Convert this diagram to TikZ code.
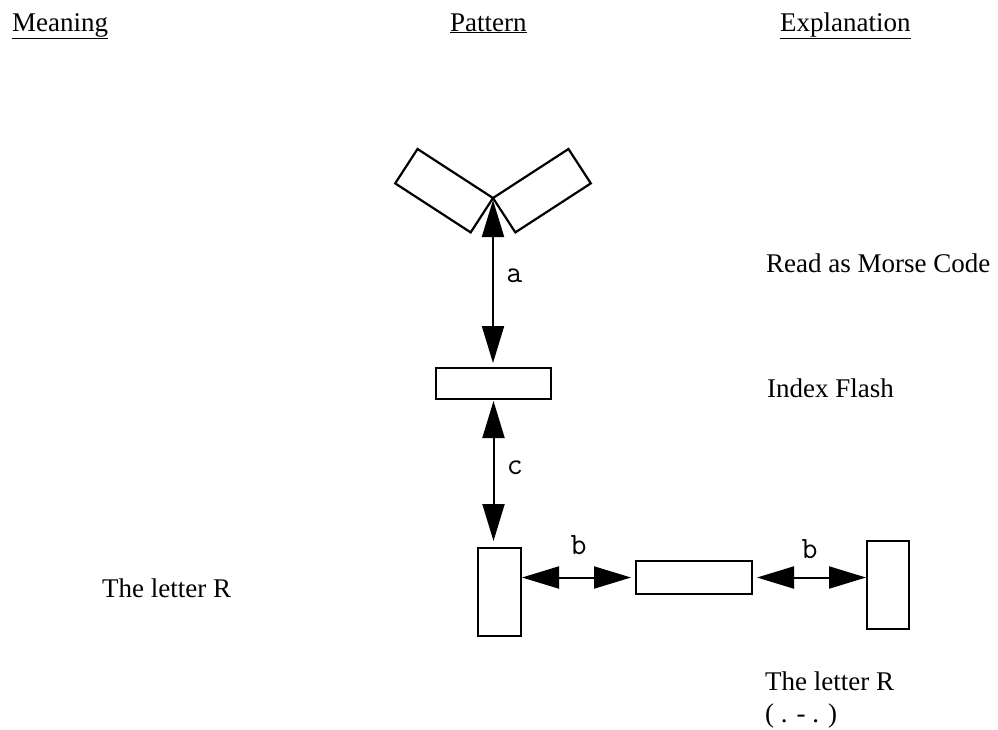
\documentclass[tikz,border=0pt]{standalone}
\usepackage{fontspec}
\setmainfont{Liberation Serif}
\usepackage{tikz}
\usetikzlibrary{arrows.meta,positioning}

\begin{document}
\begin{tikzpicture}[
  x=1pt,y=-1pt,
  every node/.style={font=\fontsize{27}{32}\selectfont},
  txt/.style={anchor=base west,inner sep=0pt,align=left},
  bar/.style={draw,line width=2.2pt,inner sep=0pt,outer sep=0pt},
  link/.style={{Triangle[length=37pt,width=22pt]}-{Triangle[length=37pt,width=22pt]},line width=2pt},
  lbl/.style={font=\fontsize{31}{34}\selectfont\ttfamily}
]
\useasboundingbox (0,0) rectangle (998,729);
\node[txt] (hmean) at (12,31)  {\underline{Meaning}};
\node[txt] (hpatt) at (450,31) {\underline{Pattern}};
\node[txt] (hexpl) at (780,31) {\underline{Explanation}};
\coordinate (apex) at (493,198);
\node[bar,minimum width=90,minimum height=41,rotate=-33,anchor=north east] (armL) at (apex) {};
\node[bar,minimum width=90,minimum height=41,rotate=33,anchor=north west]  (armR) at (apex) {};
\node[bar,minimum width=115,minimum height=31] (flash)   at (493.5,383.5) {};
\node[bar,minimum width=43,minimum height=88]  (rdot1)   at (499.5,592)   {};
\node[bar,minimum width=116,minimum height=33] (rdash)   at (694,577.5)   {};
\node[bar,minimum width=42,minimum height=88]  (rdot2)   at (888,585)     {};
\node[txt] (tmorse) at (766,272) {Read as Morse Code};
\node[txt] (tindex) at (767,397) {Index Flash};
\node[txt] (tmean)  at (102,597) {The letter R};
\node[txt] (texpl)  at (765,722) {The letter R\\( . - . )};
\draw[link,shorten <=2pt,shorten >=5pt] (apex) -- node[lbl,right=9pt,pos=0.46]{a} (apex |- flash.north);
\draw[link,shorten <=2pt,shorten >=7pt] (flash.south) -- node[lbl,right=9pt,pos=0.46]{c} (flash.south |- rdot1.north);
\draw[link,shorten <=1pt,shorten >=5pt] (rdash.west -| rdot1.east) -- node[lbl,above=18pt]{b} (rdash.west);
\draw[link,shorten <=5pt,shorten >=1pt] (rdash.east) -- node[lbl,above=14pt]{b} (rdash.east -| rdot2.west);
\end{tikzpicture}
\end{document}
